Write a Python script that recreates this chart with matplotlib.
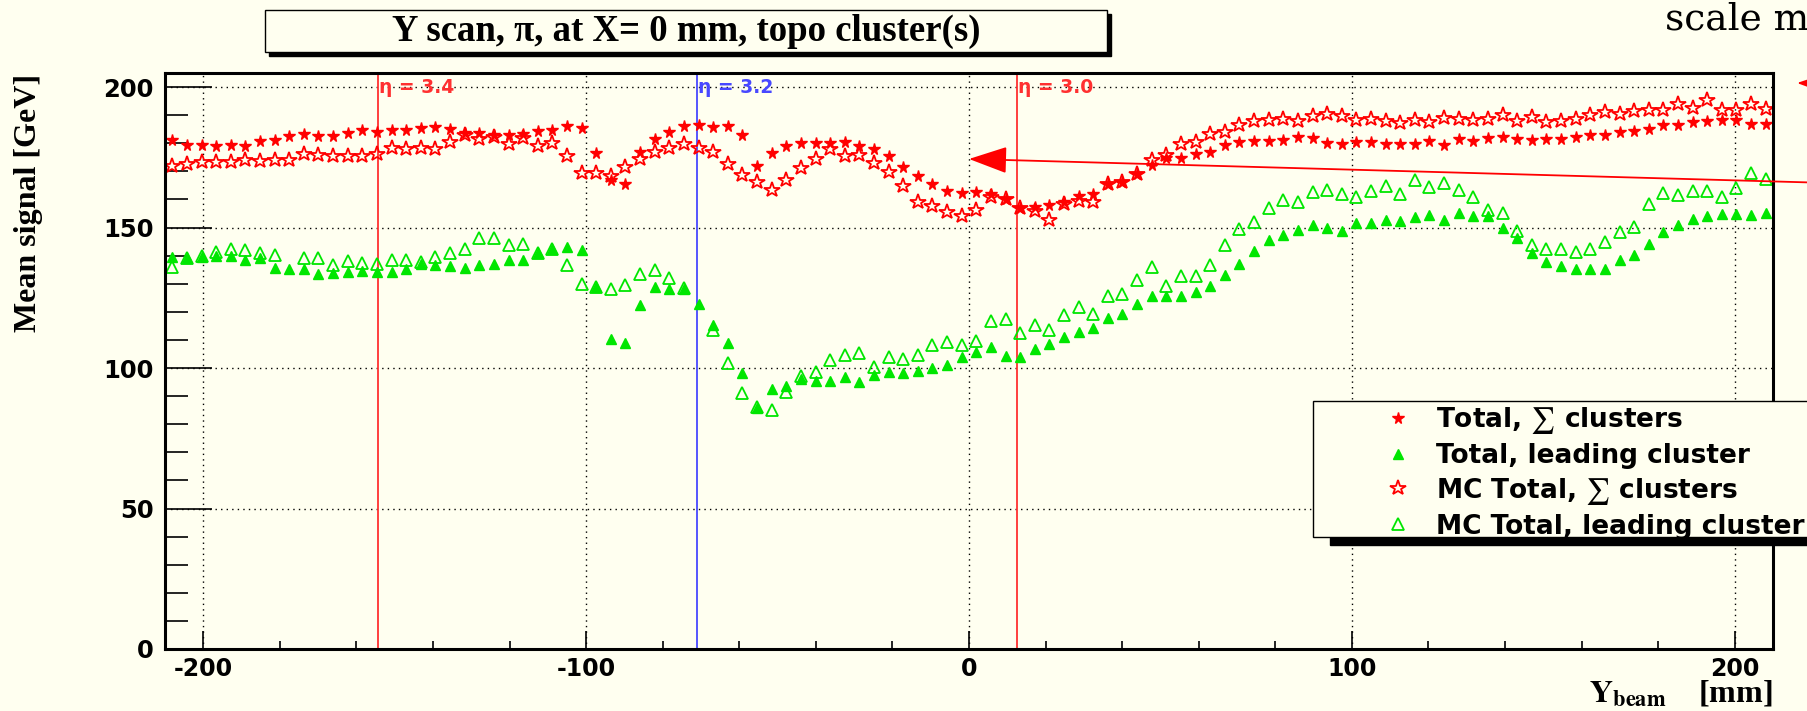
import numpy as np
import matplotlib.pyplot as plt
from matplotlib.patches import Rectangle
from matplotlib.ticker import MultipleLocator

plt.rcParams['axes.unicode_minus'] = False
plt.rcParams['mathtext.fontset'] = 'stix'

# 110 bins of the Y scan over [-210, 210] mm
bin_edges = np.linspace(-210, 210, 111)
y_beam = 0.5 * (bin_edges[:-1] + bin_edges[1:])

nan = np.nan
# Total, sum of clusters (data)
tot_sum = [181.3, 179.5, 179.5, 179.0, 179.5, 179.0, 180.8, 181.0, 182.5, 183.2,
           182.6, 182.6, 183.8, 184.8, 184.0, 184.8, 184.6, 185.5, 185.8, 185.2,
           183.8, 183.8, 182.8, 182.8, 183.2, 184.4, 184.8, 186.0, 185.5, 176.7,
           166.8, 165.4, 176.9, 181.5, 183.9, 186.1, 186.4,
           185.8, 186.0, 182.8, 171.8, 176.5, 178.9, 180.1, 180.1, 180.1, 180.5,
           178.9, 178.1, 175.4, 171.6, 168.4, 165.4, 163.0, 162.4, 162.7, 162.1,
           160.3, 157.1, 157.3, 157.9, 159.1, 161.1, 161.8, 165.4, 166.2, 169.2,
           172.2, 174.9, 174.9, 176.1, 176.9, 179.3, 180.6,
           180.8, 180.8, 181.0, 182.2, 182.0, 180.2, 179.6, 180.5, 180.5, 179.9,
           179.6, 179.9, 180.8, 179.5, 181.6, 180.7, 181.9, 182.2, 181.6, 181.3,
           181.4, 181.4, 182.2, 182.8, 182.8, 184.0, 184.4, 185.2, 186.4, 186.4,
           187.6, 187.9, 188.2, 188.2, 187.0, 186.7]
# Total, leading cluster (data)
tot_lead = [139.6, 139.0, 139.6, 139.9, 139.9, 138.6, 139.0, 135.7, 135.4, 135.1,
            133.6, 133.9, 134.2, 134.6, 134.2, 134.2, 135.1, 137.2, 136.8, 136.4,
            135.7, 136.6, 137.2, 138.4, 138.6, 140.8, 142.5, 143.1, 141.9, 128.7,
            110.5, 108.8, 122.6, 128.7, 128.3, 128.1, 122.7,
            115.3, 109.0, 98.3, 85.9, 92.4, 93.6, 96.0, 95.5, 95.5, 96.7,
            95.1, 97.5, 98.7, 98.3, 99.1, 99.9, 101.1, 104.0, 105.8, 107.6,
            104.3, 104.0, 106.6, 108.4, 110.9, 112.9, 114.1, 117.7, 119.4, 122.7,
            125.6, 125.6, 125.6, 127.1, 129.1, 133.1, 137.2,
            141.7, 145.5, 147.3, 149.1, 150.8, 150.0, 148.8, 151.7, 151.7, 152.6,
            152.4, 153.8, 154.6, 152.8, 155.2, 154.0, 154.0, 150.0, 146.1, 141.1,
            137.8, 136.4, 135.4, 135.1, 135.1, 138.4, 140.2, 144.1, 148.5, 150.8,
            153.2, 154.0, 154.7, 154.7, 154.6, 155.2]
# MC Total, sum of clusters
mc_sum = [171.8, 172.7, 173.3, 173.3, 173.3, 174.2, 173.7, 174.2, 174.2, 176.3,
          175.7, 175.4, 175.4, 175.4, 176.1, 178.4, 178.1, 178.4, 178.1, 180.5,
          182.8, 181.6, 182.2, 179.9, 182.0, 179.0, 180.1, 175.5, 169.5, 169.5,
          168.2, 171.6, 174.5, 176.9, 178.4, 179.9, 178.4,
          176.9, 172.5, 168.6, 166.2, 163.5, 166.8, 171.3, 174.5, 178.1, 175.4,
          175.7, 173.0, 169.8, 164.7, 159.1, 157.6, 155.6, 154.0, 156.2, 160.9,
          160.0, 156.8, 155.9, 152.6, 158.5, 159.5, 159.1, 165.4, 166.2, 169.2,
          174.2, 175.7, 179.9, 180.5, 183.2, 184.0, 186.4,
          187.9, 188.4, 188.7, 187.9, 189.6, 190.5, 189.6, 188.4, 188.7, 187.9,
          187.2, 188.2, 187.6, 189.1, 188.7, 188.4, 188.7, 189.9, 187.9, 189.3,
          187.6, 187.9, 188.7, 189.9, 191.1, 190.5, 191.5, 191.7, 191.7, 193.8,
          192.7, 195.3, 191.7, 191.9, 194.1, 192.3]
# MC Total, leading cluster
mc_lead = [136.0, 139.0, 139.8, 141.4, 142.2, 141.9, 140.8, 140.2, nan, 139.0,
           139.0, 136.6, 138.0, 137.4, 137.2, 138.4, 138.6, 137.8, 139.6, 140.8,
           142.5, 146.4, 146.4, 143.7, 144.3, 141.0, 142.5, 136.6, 129.9, 128.9,
           128.3, 129.5, 133.6, 134.8, 132.1, 128.6, nan,
           113.5, 101.7, 91.0, 86.0, 85.1, 91.6, 97.0, 98.7, 102.8, 104.6,
           105.5, 100.5, 104.0, 103.1, 104.6, 108.2, 109.1, 108.2, 109.7, 116.8,
           117.3, 112.3, 115.3, 113.5, 118.8, 121.8, 119.4, 125.6, 126.5, 131.5,
           135.8, 129.1, 132.7, 132.7, 136.6, 143.7, 149.6,
           152.0, 157.1, 159.7, 159.1, 162.7, 163.3, 162.1, 160.7, 162.9, 164.7,
           161.8, 166.8, 164.5, 165.9, 163.3, 160.9, 156.2, 155.0, 148.7, 143.7,
           142.2, 142.5, 141.4, 142.5, 144.9, 148.5, 150.2, 158.2, 162.3, 161.5,
           162.9, 163.0, 160.7, 164.1, 169.4, 167.4]

eta_pos = [-154.4, -71.1, 12.5]
eta_labels = ['η = 3.4', 'η = 3.2', 'η = 3.0']
eta_colors = ['#ff3030', '#4848ff', '#ff3030']

W, H = 1808, 711
bg = '#fffff0'
red = '#ff0000'
green = '#00e600'

fig = plt.figure(figsize=(W / 100, H / 100), dpi=100, facecolor=bg)
ax = fig.add_axes([165 / W, 1 - 649 / H, (1773 - 165) / W, (649 - 73) / H], facecolor=bg)

ax.plot(y_beam, tot_sum, ls='none', marker='*', ms=8.5, color=red, mec=red,
        label=r'Total, $\sum$ clusters')
ax.plot(y_beam, tot_lead, ls='none', marker='^', ms=7.5, color=green, mec=green,
        label='Total, leading cluster')
ax.plot(y_beam, mc_sum, ls='none', marker='*', ms=11.5, mfc='none', mec=red, mew=1.3,
        label=r'MC Total, $\sum$ clusters')
ax.plot(y_beam, mc_lead, ls='none', marker='^', ms=9, mfc='none', mec=green, mew=1.3,
        label='MC Total, leading cluster')

for xv, lab, c in zip(eta_pos, eta_labels, eta_colors):
    ax.axvline(xv, color=c, lw=1.3, zorder=1.5)
    ax.text(xv + 0.4, 200, lab, color=c, fontsize=13.5, weight='bold', ha='left',
            va='center', family='DejaVu Sans')

ax.set_xlim(-210, 210)
ax.set_ylim(0, 205)
ax.xaxis.set_major_locator(MultipleLocator(100))
ax.xaxis.set_minor_locator(MultipleLocator(20))
ax.yaxis.set_major_locator(MultipleLocator(50))
ax.yaxis.set_minor_locator(MultipleLocator(10))
ax.tick_params(axis='x', which='major', direction='in', length=13, width=1.2,
               labelsize=17, pad=6)
ax.tick_params(axis='x', which='minor', direction='in', length=6, width=1.2)
ax.tick_params(axis='y', which='major', direction='in', length=34, width=1.2,
               labelsize=17.5, pad=8)
ax.tick_params(axis='y', which='minor', direction='in', length=16.5, width=1.2)
for lab in ax.get_xticklabels() + ax.get_yticklabels():
    lab.set_family('DejaVu Sans')
    lab.set_weight('bold')
for sp in ax.spines.values():
    sp.set_linewidth(2.2)
ax.grid(which='major', color='black', ls=(0, (1, 3)), lw=1)
ax.set_axisbelow(True)

ax.set_ylabel('Mean signal [GeV]', family='Liberation Serif', weight='bold', fontsize=23)
ax.yaxis.set_label_coords(-0.0846, 0.774)
ax.yaxis.label.set_va('center')
ax.set_xlabel(r'$\mathbf{Y}_{\mathbf{beam}}$    [mm]', family='Liberation Serif',
              weight='bold', fontsize=23, loc='right')
ax.xaxis.set_label_coords(1.0, -0.052)
ax.xaxis.label.set_va('top')

# legend frame with its shadow, drawn on the figure (runs off the right edge)
fig.patches.append(Rectangle((1330 / W, 1 - 545 / H), 600 / W, 136 / H,
                             transform=fig.transFigure, facecolor='black',
                             edgecolor='black', zorder=2))
fig.patches.append(Rectangle((1313 / W, 1 - 537 / H), 600 / W, 136 / H,
                             transform=fig.transFigure, facecolor=bg,
                             edgecolor='black', lw=1, zorder=2))
handles, labels = ax.get_legend_handles_labels()
fig.legend(handles, labels, loc='upper left', bbox_to_anchor=(1385 / W, 1 - 405 / H),
           bbox_transform=fig.transFigure, frameon=False,
           prop={'family': 'DejaVu Sans', 'weight': 'bold', 'size': 19},
           borderpad=0, labelspacing=0.26, handlelength=1.0,
           handletextpad=0.93, borderaxespad=0)

# title box
fig.patches.append(Rectangle((269 / W, 1 - 56 / H), 842 / W, 42 / H,
                             transform=fig.transFigure, facecolor='black',
                             edgecolor='black'))
fig.patches.append(Rectangle((265 / W, 1 - 52 / H), 842 / W, 42 / H,
                             transform=fig.transFigure, facecolor=bg,
                             edgecolor='black', lw=1))
fig.text(686 / W, 1 - 31 / H, 'Y scan, π, at X= 0 mm, topo cluster(s)',
         family='Liberation Serif', weight='bold', fontsize=26.5,
         ha='center', va='center')

fig.text(1665 / W, 1 - 30 / H, 'scale m', family='DejaVu Serif', fontsize=27,
         va='baseline')

arrow = dict(arrowstyle='-|>,head_length=1.2,head_width=0.42', color=red, lw=1.3,
             shrinkA=0, shrinkB=0, mutation_scale=20)
ax.annotate('', xy=(0, 174.4), xycoords='data',
            xytext=(1.0, 1 - 182.4 / H), textcoords='figure fraction',
            arrowprops=arrow, annotation_clip=False)
ax.annotate('', xy=(1797 / W, 1 - 83 / H), xycoords='figure fraction',
            xytext=(1.1, 1 - 86 / H), textcoords='figure fraction',
            arrowprops=arrow, annotation_clip=False)

fig.savefig('out.png', dpi=100, facecolor=bg)
